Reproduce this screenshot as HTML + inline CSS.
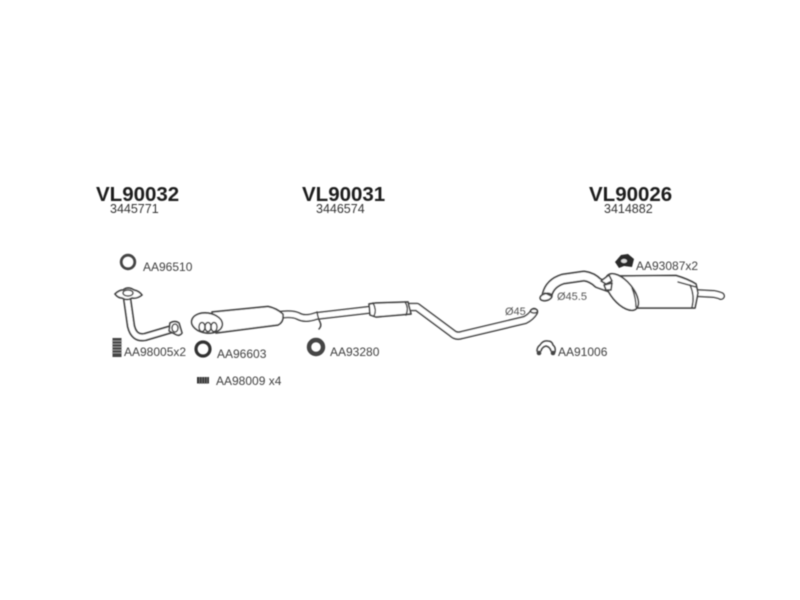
<!DOCTYPE html>
<html>
<head>
<meta charset="utf-8">
<style>
html,body{margin:0;padding:0;background:#fff;width:800px;height:600px;overflow:hidden}
svg{display:block}
text{font-family:"Liberation Sans",sans-serif}
.h{font-size:20.5px;font-weight:bold;fill:#1e1e1e}
.s{font-size:12.5px;fill:#333}
.l{font-size:12px;fill:#404040}
.d{font-size:11px;fill:#555}
.o{fill:none;stroke:#444;stroke-linecap:round;stroke-linejoin:round}
.i{fill:none;stroke:#fff;stroke-linecap:round;stroke-linejoin:round}
.b{fill:#fff;stroke:#444;stroke-width:1.7;stroke-linejoin:round}
.t{fill:none;stroke:#444;stroke-width:1.5;stroke-linecap:round}
</style>
</head>
<body>
<svg width="800" height="600" viewBox="0 0 800 600" xmlns="http://www.w3.org/2000/svg">
<defs><filter id="f" x="-5%" y="-5%" width="110%" height="110%"><feGaussianBlur stdDeviation="0.45"/></filter></defs>
<rect width="800" height="600" fill="#fff"/>
<g filter="url(#f)">
<text class="h" x="96" y="201">VL90032</text>
<text class="s" x="110" y="213">3445771</text>
<text class="h" x="302" y="201">VL90031</text>
<text class="s" x="316" y="213">3446574</text>
<text class="h" x="589" y="201">VL90026</text>
<text class="s" x="604" y="213">3414882</text>

<text class="l" x="143" y="271">AA96510</text>
<text class="l" x="124" y="356">AA98005x2</text>
<text class="l" x="217" y="358">AA96603</text>
<text class="l" x="216" y="385">AA98009 x4</text>
<text class="l" x="330" y="356">AA93280</text>
<text class="l" x="558" y="356">AA91006</text>
<text class="l" x="636" y="270">AA93087x2</text>
<text class="d" x="505" y="315">Ø45</text>
<text class="d" x="557" y="300">Ø45.5</text>

<!-- rings -->
<circle cx="128" cy="262" r="6.8" fill="none" stroke="#444" stroke-width="2.8"/>
<circle cx="203" cy="349" r="7" fill="none" stroke="#333" stroke-width="3.2"/>
<circle cx="316" cy="347" r="7" fill="none" stroke="#444" stroke-width="4.4"/>

<!-- springs -->
<rect x="112.5" y="338" width="9" height="19" fill="#444"/>
<g stroke="#aaa" stroke-width="0.8">
<line x1="112" y1="341" x2="122" y2="341"/><line x1="112" y1="344" x2="122" y2="344"/>
<line x1="112" y1="347" x2="122" y2="347"/><line x1="112" y1="350" x2="122" y2="350"/>
<line x1="112" y1="353" x2="122" y2="353"/>
</g>
<rect x="197" y="377" width="12" height="6.5" fill="#333"/>
<g stroke="#888" stroke-width="0.7">
<line x1="199.5" y1="377" x2="199.5" y2="384"/><line x1="202" y1="377" x2="202" y2="384"/>
<line x1="204.5" y1="377" x2="204.5" y2="384"/><line x1="207" y1="377" x2="207" y2="384"/>
</g>

<!-- front pipe -->
<path class="o" stroke-width="8.5" d="M127 298 L131 326 Q134 339 145 337 L172 329"/>
<path class="i" stroke-width="5" d="M127 298 L131 326 Q134 339 145 337 L172 329"/>
<path class="b" d="M115 294 Q119 290 123 290 Q128 286 134 290 Q139 291 142 295 Q137 299 132 298 Q127 301 122 298 Q118 298 115 294Z"/>
<ellipse class="t" cx="128" cy="293" rx="5" ry="3"/>
<path class="b" d="M170 323 Q175 320 179 323 L182 333 Q179 337 175 334 L169 331Z"/>
<ellipse class="t" cx="175" cy="328" rx="3" ry="4"/>

<!-- first muffler and pipe -->
<path class="o" stroke-width="8" d="M278 315 Q292 313 298 316 Q305 320 316 316 L368 310"/>
<path class="i" stroke-width="5" d="M278 315 Q292 313 298 316 Q305 320 316 316 L368 310"/>
<path class="b" d="M212 312 L268 306.5 Q276 308 283 314 Q284 322 278 325 L216 333Z"/>
<ellipse class="b" cx="207" cy="323" rx="15.5" ry="10" transform="rotate(8 207 323)"/>
<ellipse class="t" cx="202" cy="327" rx="3" ry="4.5"/>
<ellipse class="t" cx="208" cy="327" rx="3" ry="4.5"/>
<ellipse class="t" cx="214" cy="327" rx="3" ry="4.5"/>
<path class="t" d="M317 312 Q318 318 320 322 Q322 326 319 329"/>

<!-- centre silencer and pipe -->
<path class="o" stroke-width="8.5" d="M408 307 L417 307 L452 333 Q456 337 462 335 L525 320 Q531 317 534 312"/>
<path class="i" stroke-width="5.4" d="M408 307 L417 307 L452 333 Q456 337 462 335 L525 320 Q531 317 534 312"/>
<ellipse class="t" cx="534" cy="311" rx="3.5" ry="2"/>
<path class="b" d="M369 304 L376 303 L408 302 L411 314 L376 317 L370 315Z"/>
<path class="t" d="M373 303 Q377 310 374 316"/>
<path class="t" d="M405 302 Q409 308 406 315"/>

<!-- rear pipe -->
<path class="o" stroke-width="11" d="M547 295 Q550 283 563 279 L584 276 Q592 277 598 283 L612 288"/>
<path class="i" stroke-width="7.6" d="M547 295 Q550 283 563 279 L584 276 Q592 277 598 283 L612 288"/>
<ellipse class="b" cx="546" cy="297" rx="6" ry="3.5" transform="rotate(-15 546 297)"/>
<path class="t" d="M545 293 L551 296"/>

<!-- tail pipe -->
<path class="o" stroke-width="8" d="M695 293 L714 294 Q719 295 721 296"/>
<path class="i" stroke-width="5" d="M695 293 L714 294 Q719 295 721 296"/>

<!-- rear silencer -->
<path class="b" d="M612 276 L676 275.5 Q688 279 696 284 L698 293 L695 308 L636 308 Q620 302 609 286Z"/>
<ellipse class="b" cx="622" cy="292" rx="22" ry="11" transform="rotate(50 622 292)"/>
<path class="t" d="M632 288 Q636 298 636 307"/>
<path class="t" d="M678 282 L696 287"/>
<path class="t" d="M690 285 Q695 296 692 307"/>
<path class="b" d="M601 281 L609 275 L612 281 L606 284Z"/>
<path class="b" d="M604 285 L612 283 L611 290 L606 290Z"/>

<!-- hanger AA93087 -->
<path fill="#2a2a2a" d="M615 262 L621 255 L628 254 L634 259 L632 267 L624 266 L619 268Z"/>
<ellipse cx="624" cy="261" rx="3" ry="2" fill="#ddd"/>

<!-- clamp AA91006 -->
<path class="t" d="M537 351 Q537 347 540 345 Q543 340 548 341 Q552 341 553 345 Q556 347 555 352"/>
<path class="t" d="M541 351 Q542 347 546 346 Q550 347 551 351"/>
<circle cx="539" cy="353" r="2.3" fill="#444"/>
<circle cx="553" cy="353" r="2.3" fill="#444"/>
</g>
</svg>
</body>
</html>
